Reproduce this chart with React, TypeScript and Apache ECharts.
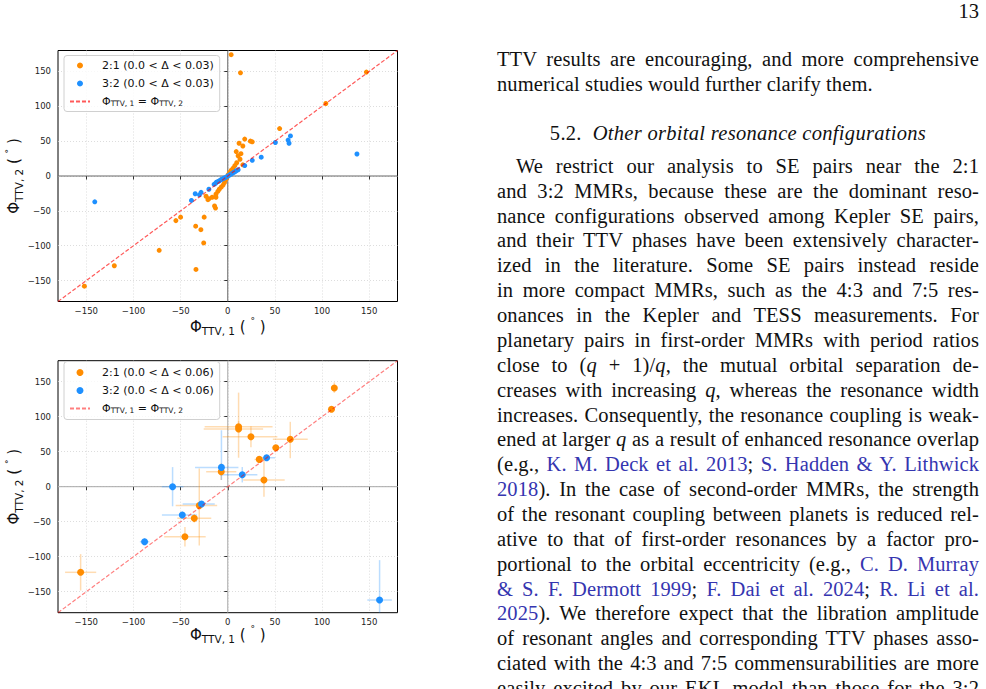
import { useEffect, useRef } from "react";
import * as echarts from "echarts";

// ---------- axis setup ----------
const AXIS_LIMIT = 180;
const TICK_VALUES = [-150, -100, -50, 0, 50, 100, 150];

// ---------- upper panel: 0.0 < Δ < 0.03 ----------
const UPPER_21_NAME = "2:1 (0.0 < Δ < 0.03)";
const UPPER_32_NAME = "3:2 (0.0 < Δ < 0.03)";
// [Φ_TTV,1, Φ_TTV,2] in degrees
const upper21: number[][] = [
  [3.6, 174], [13.5, 148], [147, 149], [104, 104], [55, 68],
  [12, 47], [18, 53], [16, 43], [24, 50], [26, 49],
  [9, 35], [14, 32], [11, 29], [13, 24], [9.5, 19], [7.5, 15], [5.5, 11], [3.5, 8], [2, 5], [0.5, 2], [16, 16],
  [-1, -3], [-2.5, -6], [-3.5, -9.5], [-5, -13], [-7, -16], [-9, -19], [-10.5, -22], [-12.5, -26],
  [-16.5, -30.5], [-20, -32.5], [-21, -34], [-23, -29], [-12.5, -30.5], [-14, -43], [-13, -46],
  [-25, -59], [-34, -72], [-28.5, -77], [-25.5, -96], [-33.7, -134],
  [-55, -64], [-50, -59], [-72.7, -106.6], [-120.3, -128.7], [-152, -158],
];
const upper32: number[][] = [
  [-141, -37], [-38.5, -35], [-34.5, -25.5], [-30, -27], [-28.3, -23.5], [-20, -19],
  [-14.5, -12], [-13, -10.5], [-12, -9], [-10.5, -8], [-9, -7], [-7.5, -5.5], [-6, -4.5],
  [-4.5, -3.5], [-3, -2.5], [-1.5, -1.5], [0, 0], [1.5, 1], [3, 2.5], [4.5, 3.5], [6, 5],
  [7.5, 6], [9, 7.5], [11, 9], [18, 15], [26, 22.5], [35.5, 27], [50.5, 48],
  [64, 51.5], [65, 47], [66.5, 57.5], [137, 31.5],
];

// ---------- lower panel: 0.0 < Δ < 0.06 ----------
const LOWER_21_NAME = "2:1 (0.0 < Δ < 0.06)";
const LOWER_32_NAME = "3:2 (0.0 < Δ < 0.06)";
// [Φ_TTV,1, Φ_TTV,2, Φ1 err−, Φ1 err+, Φ2 err−, Φ2 err+] in degrees
const lower21: number[][] = [
  [-156, -122.3, 16.5, 16.5, 26, 26],
  [-45.4, -71.4, 22, 22, 14, 14],
  [-35.5, -45.2, 18, 18, 6, 6],
  [-30.2, -27, 25, 19, 57, 53],
  [-6.9, 21.4, 16, 16, 12, 12],
  [11.5, 85.7, 36, 36, 8, 8],
  [11.5, 82.4, 37, 26, 41, 52],
  [24.6, 71.4, 30, 28, 15, 15],
  [33.4, 39, 5, 5, 4, 4],
  [38.4, 9.6, 22, 22, 24, 31],
  [51, 55.7, 4, 4, 4, 4],
  [66.3, 67.7, 18.5, 18.5, 27, 25],
  [110, 110.6, 3, 3, 4, 4],
  [113, 141, 3, 3, 7, 8],
];
const lower32: number[][] = [
  [-88.2, -78.6, 5, 5, 5, 5],
  [-58.5, 0, 11.5, 11.5, 28, 28],
  [-48.2, -40.4, 21.6, 15.5, 5, 5],
  [-27.8, -24.7, 20, 14, 4, 4],
  [-6.7, 27.6, 28, 18, 18, 53],
  [15.4, 17.1, 23, 16, 11, 11],
  [41.2, 41.4, 9, 9, 4, 4],
  [161, -161.9, 13, 13, 57, 57],
];

// one-to-one reference line and zero lines span the full axis range
const identityLine = [[-AXIS_LIMIT, -AXIS_LIMIT], [AXIS_LIMIT, AXIS_LIMIT]];
const verticalZero = [[0, -AXIS_LIMIT], [0, AXIS_LIMIT]];
const horizontalZero = [[-AXIS_LIMIT, 0], [AXIS_LIMIT, 0]];

// ---------- text column ----------
const PAGE_NUMBER = "13";
const closingLines = [
  "TTV results are encouraging, and more comprehensive",
  "numerical studies would further clarify them.",
];
const SECTION_NUMBER = "5.2.";
const SECTION_TITLE = "Other orbital resonance configurations";
// *x* = italic math, [x] = citation link
const paragraphLines = [
  "We restrict our analysis to SE pairs near the 2:1",
  "and 3:2 MMRs, because these are the dominant reso-",
  "nance configurations observed among Kepler SE pairs,",
  "and their TTV phases have been extensively character-",
  "ized in the literature.  Some SE pairs instead reside",
  "in more compact MMRs, such as the 4:3 and 7:5 res-",
  "onances in the Kepler and TESS measurements.  For",
  "planetary pairs in first-order MMRs with period ratios",
  "close to (*q* + 1)/*q*, the mutual orbital separation de-",
  "creases with increasing *q*, whereas the resonance width",
  "increases. Consequently, the resonance coupling is weak-",
  "ened at larger *q* as a result of enhanced resonance overlap",
  "(e.g., [K. M. Deck et al. 2013]; [S. Hadden & Y. Lithwick]",
  "[2018]). In the case of second-order MMRs, the strength",
  "of the resonant coupling between planets is reduced rel-",
  "ative to that of first-order resonances by a factor pro-",
  "portional to the orbital eccentricity (e.g., [C. D. Murray]",
  "[& S. F. Dermott 1999]; [F. Dai et al. 2024]; [R. Li et al.]",
  "[2025]). We therefore expect that the libration amplitude",
  "of resonant angles and corresponding TTV phases asso-",
  "ciated with the 4:3 and 7:5 commensurabilities are more",
  "easily excited by our EKL model than those for the 3:2",
];

const ORANGE = "#ff8c00";
const BLUE = "#1e90ff";
const SANS = "DejaVu Sans";
const SERIF = "'Liberation Serif', 'Times New Roman', serif";
const LINK = "#3535b0";

const minusFormatter = (v: number) => (v < 0 ? `\u2212${-v}` : `${v}`);

const nameRich = {
  m: { fontSize: 15, fontFamily: SANS, color: "#111", lineHeight: 20 },
  s: { fontSize: 10.5, fontFamily: SANS, color: "#111", lineHeight: 9, verticalAlign: "bottom" },
  d: { fontSize: 9, fontFamily: SANS, color: "#111", lineHeight: 14, verticalAlign: "top" },
};

const legendRich = {
  m: { fontSize: 11, fontFamily: SANS, color: "#111", lineHeight: 12 },
  s: { fontSize: 7.5, fontFamily: SANS, color: "#111", lineHeight: 6, verticalAlign: "bottom" },
};

const identityLabel = "{m|Φ}{s|TTV, 1}{m| = Φ}{s|TTV, 2}";

function makeAxis(index: number, isX: boolean, nameGap: number) {
  const axisName = isX
    ? "{m|Φ}{s|TTV, 1}{m| ( }{d|°}{m| )}"
    : "{m|Φ}{s|TTV, 2}{m| ( }{d|°}{m| )}";
  return {
    type: "value",
    gridIndex: index,
    min: -AXIS_LIMIT,
    max: AXIS_LIMIT,
    name: axisName,
    nameLocation: "middle",
    nameGap,
    nameMoveOverlap: false,
    nameRotate: isX ? 0 : 90,
    nameTextStyle: { rich: nameRich },
    axisLine: { show: false },
    axisTick: {
      show: true,
      inside: false,
      length: 3.5,
      customValues: TICK_VALUES,
      lineStyle: { color: "#000", width: 0.8 },
    },
    axisLabel: {
      customValues: TICK_VALUES,
      formatter: minusFormatter,
      fontFamily: SANS,
      fontSize: 8.5,
      color: "#222",
      margin: isX ? 5 : 7,
    },
    splitLine: {
      show: true,
      lineStyle: { color: "#d4d4d4", width: 0.8, type: [1, 2] },
    },
  };
}

function errorBarSeries(index: number, data: number[][], color: string) {
  return {
    type: "custom",
    xAxisIndex: index,
    yAxisIndex: index,
    z: 2,
    silent: true,
    data,
    encode: { x: 0, y: 1 },
    renderItem: (_params: any, api: any) => {
      const x = api.value(0);
      const y = api.value(1);
      const clamp = (v: number) => Math.max(-AXIS_LIMIT, Math.min(AXIS_LIMIT, v));
      const a = api.coord([clamp(x - api.value(2)), y]);
      const b = api.coord([clamp(x + api.value(3)), y]);
      const c = api.coord([x, clamp(y - api.value(4))]);
      const d = api.coord([x, clamp(y + api.value(5))]);
      const style = { stroke: color, lineWidth: 1.5 };
      return {
        type: "group",
        children: [
          { type: "line", shape: { x1: a[0], y1: a[1], x2: b[0], y2: b[1] }, style },
          { type: "line", shape: { x1: c[0], y1: c[1], x2: d[0], y2: d[1] }, style },
        ],
      };
    },
  };
}

function zeroLineSeries(index: number, color: string) {
  return [verticalZero, horizontalZero].map((d) => ({
    type: "line",
    xAxisIndex: index,
    yAxisIndex: index,
    data: d,
    z: 1,
    silent: true,
    symbol: "none",
    lineStyle: { color, width: 1 },
  }));
}

function legendFor(names: string[], identityName: string, top: number, itemHeight: number, pad: number[]) {
  return {
    data: [
      ...names,
      // the reference line is shown as a bare dashed stroke, without a marker
      { name: identityName, itemStyle: { opacity: 0 } },
    ],
    orient: "vertical",
    left: 64,
    top,
    itemWidth: 20,
    itemHeight,
    itemGap: 6,
    padding: pad,
    selectedMode: false,
    backgroundColor: "rgba(255,255,255,0.8)",
    borderColor: "#d0d0d0",
    borderWidth: 1,
    borderRadius: 3,
    formatter: (name: string) => (name.startsWith("identity") ? identityLabel : name),
    textStyle: {
      fontFamily: SANS,
      fontSize: 11,
      color: "#111",
      lineHeight: 12,
      padding: [0, 0, 0, 7],
      rich: legendRich,
    },
  };
}

function ChartPanel() {
  const ref = useRef<HTMLDivElement>(null);
  useEffect(() => {
    if (!ref.current) return;
    const chart = echarts.init(ref.current, null, { renderer: "svg" });
    const option: any = {
      animation: false,
      grid: [
        { left: 58, top: 50.5, width: 339.5, height: 251, show: true, borderColor: "#000", borderWidth: 1, backgroundColor: "transparent", containLabel: false, outerBoundsMode: "none" },
        { left: 58, top: 360.7, width: 339.5, height: 252, show: true, borderColor: "#000", borderWidth: 1, backgroundColor: "transparent", containLabel: false, outerBoundsMode: "none" },
      ],
      xAxis: [makeAxis(0, true, 15), makeAxis(1, true, 12)],
      yAxis: [makeAxis(0, false, 34), makeAxis(1, false, 34)],
      legend: [
        legendFor([UPPER_21_NAME, UPPER_32_NAME], "identity-upper", 55.5, 6, [4, 6, 4, 5]),
        legendFor([LOWER_21_NAME, LOWER_32_NAME], "identity-lower", 361.5, 7, [5, 6, 5, 5]),
      ],
      series: [
        ...zeroLineSeries(0, "#666"),
        {
          name: UPPER_21_NAME, type: "scatter", xAxisIndex: 0, yAxisIndex: 0, z: 3,
          symbol: "circle", symbolSize: 5, itemStyle: { color: ORANGE, opacity: 1 }, data: upper21,
        },
        {
          name: UPPER_32_NAME, type: "scatter", xAxisIndex: 0, yAxisIndex: 0, z: 3,
          symbol: "circle", symbolSize: 5, itemStyle: { color: BLUE, opacity: 1 }, data: upper32,
        },
        {
          name: "identity-upper", type: "line", xAxisIndex: 0, yAxisIndex: 0, z: 4,
          data: identityLine, symbol: "none", showSymbol: false,
          itemStyle: { color: "rgba(255,0,0,0.65)" },
          lineStyle: { color: "rgba(255,0,0,0.65)", width: 1.2, type: [4, 2] },
        },
        ...zeroLineSeries(1, "#a8a8a8"),
        errorBarSeries(1, lower21, "rgba(255,140,0,0.3)"),
        errorBarSeries(1, lower32, "rgba(30,144,255,0.3)"),
        {
          name: LOWER_21_NAME, type: "scatter", xAxisIndex: 1, yAxisIndex: 1, z: 3,
          symbol: "circle", symbolSize: 7, itemStyle: { color: ORANGE, opacity: 1 },
          data: lower21.map((r) => [r[0], r[1]]),
        },
        {
          name: LOWER_32_NAME, type: "scatter", xAxisIndex: 1, yAxisIndex: 1, z: 3,
          symbol: "circle", symbolSize: 7, itemStyle: { color: BLUE, opacity: 1 },
          data: lower32.map((r) => [r[0], r[1]]),
        },
        {
          name: "identity-lower", type: "line", xAxisIndex: 1, yAxisIndex: 1, z: 4,
          data: identityLine, symbol: "none", showSymbol: false,
          itemStyle: { color: "rgba(255,0,0,0.5)" },
          lineStyle: { color: "rgba(255,0,0,0.5)", width: 1.2, type: [4, 2] },
        },
      ],
    };
    chart.setOption(option);
    return () => chart.dispose();
  }, []);
  return <div ref={ref} style={{ position: "absolute", left: 0, top: 0, width: 470, height: 689 }} />;
}

function renderMarkup(line: string) {
  const parts = line.split(/(\*[^*]+\*|\[[^\]]+\])/).filter((p) => p.length > 0);
  return parts.map((p, i) => {
    if (p.startsWith("*")) return <i key={i}>{p.slice(1, -1)}</i>;
    if (p.startsWith("[")) return <span key={i} style={{ color: LINK }}>{p.slice(1, -1)}</span>;
    return <span key={i}>{p}</span>;
  });
}

const COL_LEFT = 497;
const COL_WIDTH = 482;
const FONT_PX = 20.5;
const ASCENT = 19.5;

function TextLine({ baseline, children, justify = true, indent = 0, center = false }: any) {
  return (
    <div
      style={{
        position: "absolute",
        left: COL_LEFT + indent,
        width: COL_WIDTH - indent,
        top: baseline - ASCENT,
        fontFamily: SERIF,
        fontSize: FONT_PX,
        letterSpacing: "0.1px",
        lineHeight: "25px",
        color: "#111",
        textAlign: center ? "center" : justify ? "justify" : "left",
        textAlignLast: center ? "center" : justify ? "justify" : "left",
      }}
    >
      {children}
    </div>
  );
}

export default function App() {
  const paraStart = 173.3;
  const paraStep = 24.87;
  return (
    <div style={{ position: "absolute", left: 0, top: 0, width: 986, height: 689, overflow: "hidden", background: "#fff" }}>
      <ChartPanel />
      <div
        style={{
          position: "absolute", right: 7, top: 18.3 - ASCENT, fontFamily: SERIF, fontSize: FONT_PX,
          lineHeight: "25px", color: "#111",
        }}
      >
        {PAGE_NUMBER}
      </div>
      <TextLine baseline={66.5}>{closingLines[0]}</TextLine>
      <TextLine baseline={91.5} justify={false}>{closingLines[1]}</TextLine>
      <TextLine baseline={140} center>
        <span style={{ letterSpacing: "0.3px" }}>
          {SECTION_NUMBER}{"\u00a0\u00a0"}<i>{SECTION_TITLE}</i>
        </span>
      </TextLine>
      {paragraphLines.map((line, i) => (
        <TextLine key={i} baseline={paraStart + paraStep * i} indent={i === 0 ? 19 : 0}>
          {renderMarkup(line)}
        </TextLine>
      ))}
    </div>
  );
}
